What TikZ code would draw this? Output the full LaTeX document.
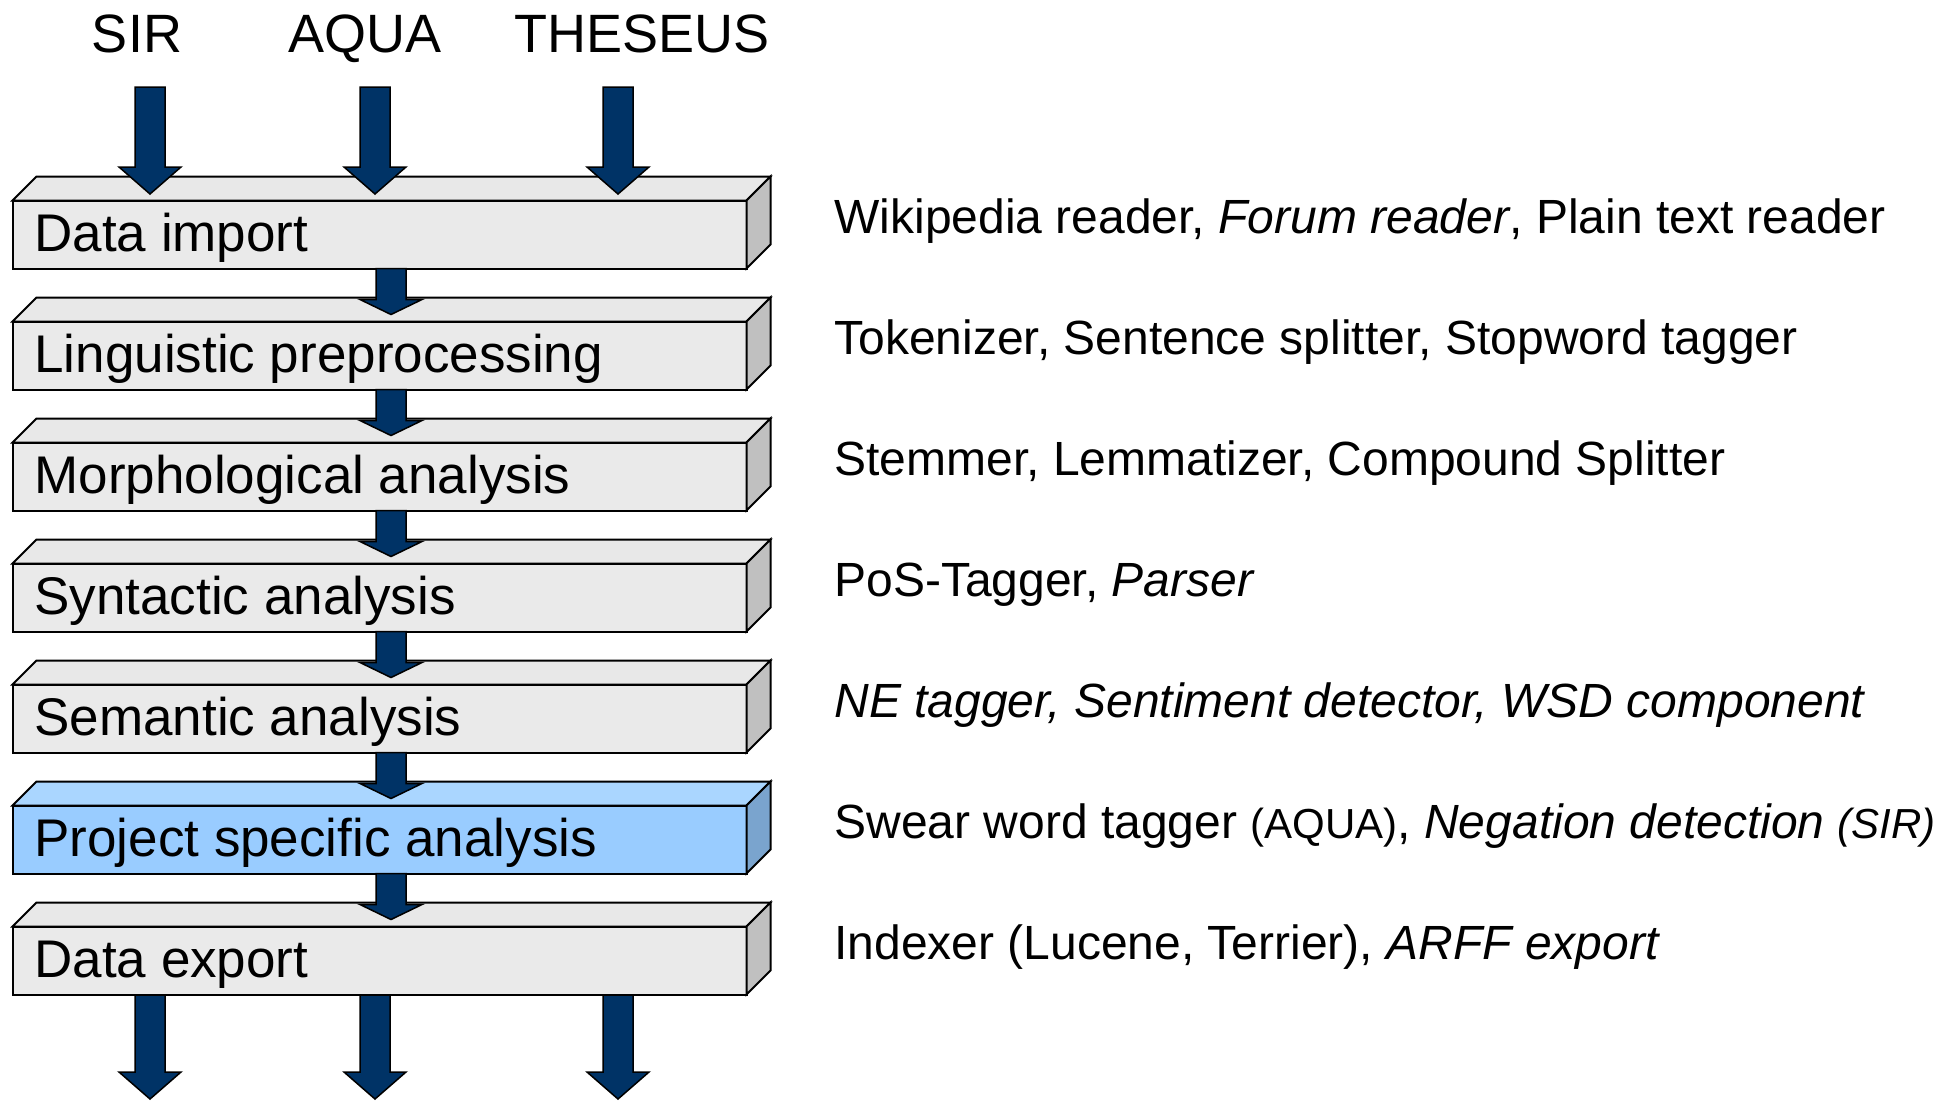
\documentclass[tikz,border=0pt]{standalone}
\usepackage{fontspec}
\setmainfont{Liberation Sans}
\usetikzlibrary{calc}
\definecolor{arrowblue}{RGB}{0,51,102}
\definecolor{gfront}{RGB}{234,234,234}
\definecolor{gtop}{RGB}{232,232,232}
\definecolor{gside}{RGB}{192,192,192}
\definecolor{bfront}{RGB}{153,204,255}
\definecolor{btop}{RGB}{170,214,255}
\definecolor{bside}{RGB}{122,164,206}
\newcommand\blockarr[3]{\draw[barrow] ($(#1)+(-15,0)$) -- ($(#2)+(-15,-#3)$) -- ($(#2)+(-31,-#3)$) -- (#2) -- ($(#2)+(31,-#3)$) -- ($(#2)+(15,-#3)$) -- ($(#1)+(15,0)$) -- cycle;}
\newcommand\smallpar{\fontsize{21pt}{24pt}\selectfont}
\tikzset{
  frontface/.style={draw, line width=1pt, minimum width=367pt, minimum height=34pt, inner sep=0pt, outer sep=0pt, anchor=north west},
  facepath/.style={draw, line width=1pt, line join=miter},
  boxtext/.style={inner sep=0pt, anchor=base west, font=\fontsize{26.5pt}{30pt}\selectfont},
  titletext/.style={inner sep=0pt, anchor=base, font=\fontsize{27pt}{30pt}\selectfont},
  desctext/.style={inner sep=0pt, anchor=base west, font=\fontsize{24pt}{28pt}\selectfont},
  barrow/.style={draw=black, line width=0.75pt, fill=arrowblue, line join=miter}
}
\begin{document}
\begin{tikzpicture}[x=0.5pt,y=-0.5pt]
\useasboundingbox (0,0) rectangle (1955,1100);
% titles
\node[titletext] (tsir) at (137,52) {SIR};
\node[titletext] (taqua) at (365,52) {AQUA};
\node[titletext] (tthe) at (642,52) {THESEUS};
% bottom arrows (drawn first, start under data export box)
\coordinate (o1) at (150,990);
\coordinate (o2) at (375,990);
\coordinate (o3) at (618,990);
\coordinate (p1) at (150,1099);
\coordinate (p2) at (375,1099);
\coordinate (p3) at (618,1099);
\blockarr{o1}{p1}{27}
\blockarr{o2}{p2}{27}
\blockarr{o3}{p3}{27}
% boxes
\foreach \i/\lab/\cf/\ct/\cs in {0/Data import/gfront/gtop/gside,
  1/Linguistic preprocessing/gfront/gtop/gside,
  2/Morphological analysis/gfront/gtop/gside,
  3/Syntactic analysis/gfront/gtop/gside,
  4/Semantic analysis/gfront/gtop/gside,
  5/Project specific analysis/bfront/btop/bside,
  6/Data export/gfront/gtop/gside}{
  \pgfmathsetmacro\yt{200.5+121*\i}
  \node[frontface, fill=\cf] (b\i) at (12.5,\yt) {};
  \draw[facepath, fill=\ct] (b\i.north west) -- ++(24,-24) -- ($(b\i.north east)+(24,-24)$) -- (b\i.north east) -- cycle;
  \draw[facepath, fill=\cs] (b\i.north east) -- ++(24,-24) -- ($(b\i.south east)+(24,-24)$) -- (b\i.south east) -- cycle;
  \node[boxtext] (l\i) at (34,\yt+51) {\lab};
}
% input arrows
\coordinate (i1) at (150,87);
\coordinate (i2) at (375,87);
\coordinate (i3) at (618,87);
\coordinate (j1) at (150,194);
\coordinate (j2) at (375,194);
\coordinate (j3) at (618,194);
\blockarr{i1}{j1}{27}
\blockarr{i2}{j2}{27}
\blockarr{i3}{j3}{27}
% arrows between boxes
\foreach \i [evaluate=\i as \n using int(\i+1)] in {0,...,5}{
  \coordinate (s\i) at ($(b\i.south west)+(378.5,0)$);
  \coordinate (t\i) at ($(b\n.north west)+(378.5,-7)$);
  \blockarr{s\i}{t\i}{15}
}
% descriptions
\node[desctext] (d0) at (834,233.5) {Wikipedia reader, \textit{Forum reader}, Plain text reader};
\node[desctext] (d1) at (834,354.5) {Tokenizer, Sentence splitter, Stopword tagger};
\node[desctext] (d2) at (834,475.5) {Stemmer, Lemmatizer, Compound Splitter};
\node[desctext] (d3) at (834,596.5) {PoS-Tagger, \textit{Parser}};
\node[desctext] (d4) at (834,717.5) {\textit{NE tagger, Sentiment detector, WSD component}};
\node[desctext] (d5) at (834,838.5) {Swear word tagger {\smallpar (AQUA)}, \textit{Negation detection {\smallpar (SIR)}}};
\node[desctext] (d6) at (834,959.5) {Indexer (Lucene, Terrier), \textit{ARFF export}};
\end{tikzpicture}
\end{document}
